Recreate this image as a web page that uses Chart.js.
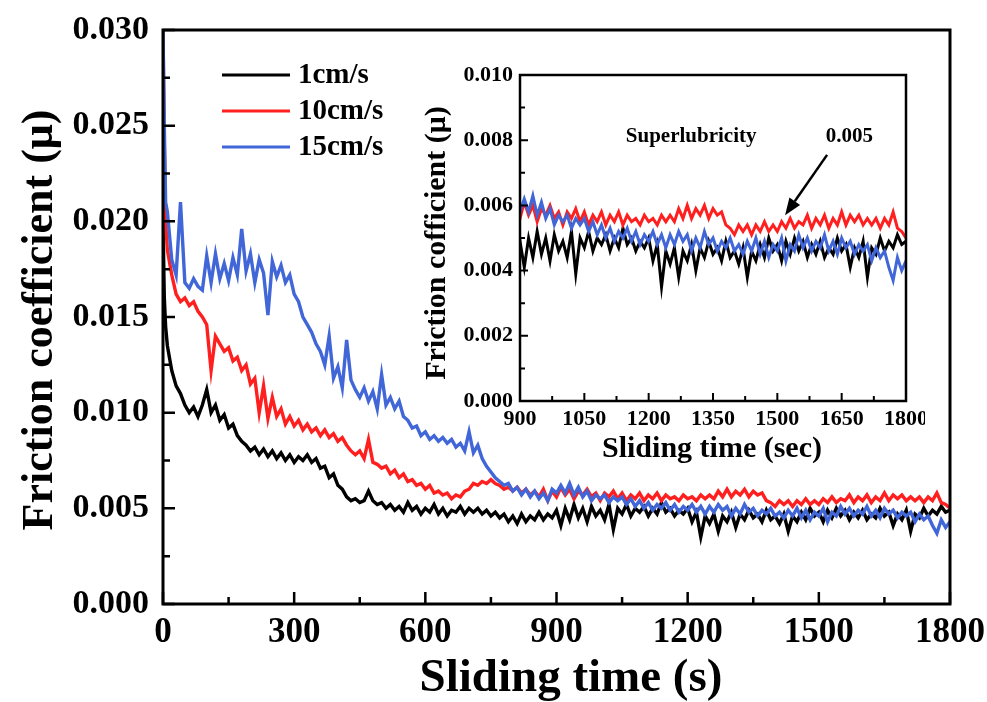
<!DOCTYPE html>
<html>
<head>
<meta charset="utf-8">
<script src="https://cdn.jsdelivr.net/npm/chart.js@4.4.0/dist/chart.umd.min.js"></script>
<style>
  html, body { margin: 0; padding: 0; background: #fff; }
  #wrap { position: relative; width: 987px; height: 702px; }
  #main { position: absolute; left: 0; top: 0; }
  #inset { position: absolute; left: 405px; top: 55px; }
</style>
</head>
<body>
<div id="wrap">
  <canvas id="main" width="987" height="702"></canvas>
  <canvas id="inset" width="520" height="420"></canvas>
</div>
<script>
// sliding time (s): a few early samples, then every 10 s
const startTimes = [0, 3, 6];
const times = startTimes.slice();
for (let t = 10; t <= 1800; t += 10) times.push(t);

const seriesLabels = ['1cm/s', '10cm/s', '15cm/s'];

// friction coefficient
const speed1 = [
  0.0200, 0.0160, 0.0145,
  0.0135, 0.0122, 0.0114, 0.0110, 0.0104, 0.0100, 0.0103, 0.0098, 0.0104, 0.0112,
  0.0100, 0.0104, 0.0096, 0.0099, 0.0092, 0.0094, 0.0088, 0.0085, 0.0083, 0.0080,
  0.0082, 0.0078, 0.0081, 0.0077, 0.0080, 0.0076, 0.0079, 0.0075, 0.0078, 0.0074,
  0.0077, 0.0075, 0.0078, 0.0074, 0.0076, 0.0071, 0.0072, 0.0066, 0.0068, 0.0062,
  0.0060, 0.0056, 0.0054, 0.0055, 0.0053, 0.0054, 0.0059, 0.0054, 0.0052, 0.0053,
  0.0050, 0.0052, 0.0049, 0.0051, 0.0048, 0.0053, 0.0049, 0.0051, 0.0047, 0.0050,
  0.0048, 0.0052, 0.0047, 0.0050, 0.0046, 0.0049, 0.0048, 0.0051, 0.0047, 0.0050,
  0.0048, 0.0050, 0.0047, 0.0049, 0.0046, 0.0048, 0.0045, 0.0047, 0.0043, 0.0046,
  0.0042, 0.0047, 0.0043, 0.0046, 0.0044, 0.0048, 0.0044, 0.0047, 0.0045, 0.0049,
  0.0041, 0.0050, 0.0044, 0.0052, 0.0045, 0.0050, 0.0043, 0.0051, 0.0046, 0.0049,
  0.0044, 0.0052, 0.0039, 0.0050, 0.0047, 0.0052, 0.0046, 0.0050, 0.0048, 0.0051,
  0.0046, 0.0050, 0.0047, 0.0053, 0.0048, 0.0050, 0.0046, 0.0049, 0.0047, 0.0050,
  0.0043, 0.0048, 0.0035, 0.0046, 0.0042, 0.0047, 0.0038, 0.0046, 0.0043, 0.0048,
  0.0040, 0.0047, 0.0044, 0.0049, 0.0045, 0.0047, 0.0043, 0.0049, 0.0044, 0.0046,
  0.0042, 0.0047, 0.0038, 0.0046, 0.0043, 0.0048, 0.0044, 0.0050, 0.0046, 0.0048,
  0.0043, 0.0049, 0.0045, 0.0050, 0.0046, 0.0049, 0.0044, 0.0048, 0.0045, 0.0049,
  0.0044, 0.0047, 0.0045, 0.0050, 0.0046, 0.0048, 0.0041, 0.0047, 0.0044, 0.0049,
  0.0038, 0.0047, 0.0045, 0.0050, 0.0046, 0.0049, 0.0047, 0.0051, 0.0048, 0.0049
];
const speed10 = [
  0.0300, 0.0240, 0.0200,
  0.0185, 0.0172, 0.0162, 0.0158, 0.0160, 0.0156, 0.0158, 0.0153, 0.0150, 0.0146,
  0.0122, 0.0140, 0.0136, 0.0132, 0.0134, 0.0127, 0.0129, 0.0122, 0.0125, 0.0115,
  0.0118, 0.0100, 0.0114, 0.0097, 0.0108, 0.0098, 0.0102, 0.0094, 0.0098, 0.0093,
  0.0096, 0.0091, 0.0094, 0.0090, 0.0092, 0.0088, 0.0091, 0.0087, 0.0089, 0.0085,
  0.0087, 0.0083, 0.0080, 0.0078, 0.0080, 0.0076, 0.0086, 0.0074, 0.0073, 0.0071,
  0.0072, 0.0068, 0.0070, 0.0066, 0.0068, 0.0064, 0.0065, 0.0062, 0.0063, 0.0060,
  0.0062, 0.0058, 0.0059, 0.0057, 0.0058, 0.0055, 0.0057, 0.0056, 0.0059, 0.0060,
  0.0063, 0.0062, 0.0064, 0.0063, 0.0065, 0.0063, 0.0062, 0.0060, 0.0061, 0.0059,
  0.0061, 0.0058, 0.0060, 0.0057, 0.0059, 0.0056, 0.0060, 0.0054, 0.0059, 0.0056,
  0.0061, 0.0057, 0.0060, 0.0055, 0.0059, 0.0057, 0.0060, 0.0056, 0.0058, 0.0054,
  0.0058, 0.0056, 0.0059, 0.0055, 0.0058, 0.0054, 0.0057, 0.0055, 0.0058, 0.0054,
  0.0057, 0.0055, 0.0058, 0.0054, 0.0057, 0.0055, 0.0056, 0.0054, 0.0057, 0.0055,
  0.0056, 0.0054, 0.0057, 0.0055, 0.0057, 0.0055, 0.0059, 0.0056, 0.0060, 0.0056,
  0.0059, 0.0057, 0.0060, 0.0056, 0.0059, 0.0057, 0.0058, 0.0054, 0.0053, 0.0051,
  0.0054, 0.0052, 0.0054, 0.0051, 0.0054, 0.0052, 0.0055, 0.0052, 0.0054, 0.0052,
  0.0055, 0.0053, 0.0056, 0.0053, 0.0055, 0.0054, 0.0057, 0.0053, 0.0056, 0.0054,
  0.0057, 0.0053, 0.0056, 0.0054, 0.0058, 0.0054, 0.0057, 0.0055, 0.0057, 0.0054,
  0.0056, 0.0054, 0.0056, 0.0053, 0.0056, 0.0054, 0.0058, 0.0053, 0.0052, 0.0050
];
const speed15 = [
  0.0300, 0.0250, 0.0210,
  0.0205, 0.0180, 0.0172, 0.0210, 0.0168, 0.0165, 0.0170, 0.0166, 0.0164, 0.0182,
  0.0168, 0.0183, 0.0170, 0.0178, 0.0169, 0.0181, 0.0172, 0.0196, 0.0174, 0.0183,
  0.0168, 0.0180, 0.0173, 0.0151, 0.0179, 0.0171, 0.0177, 0.0168, 0.0172, 0.0162,
  0.0158, 0.0150, 0.0146, 0.0142, 0.0136, 0.0132, 0.0125, 0.0140, 0.0118, 0.0124,
  0.0113, 0.0138, 0.0117, 0.0112, 0.0108, 0.0113, 0.0106, 0.0111, 0.0102, 0.0120,
  0.0104, 0.0108, 0.0102, 0.0106, 0.0098, 0.0096, 0.0092, 0.0093, 0.0088, 0.0090,
  0.0086, 0.0088, 0.0085, 0.0087, 0.0084, 0.0086, 0.0082, 0.0084, 0.0080, 0.0090,
  0.0079, 0.0083, 0.0076, 0.0072, 0.0069, 0.0066, 0.0064, 0.0062, 0.0063, 0.0059,
  0.0061, 0.0057, 0.0060, 0.0056, 0.0059, 0.0055, 0.0058, 0.0054, 0.0060, 0.0058,
  0.0062, 0.0058, 0.0063, 0.0057, 0.0061, 0.0056, 0.0059, 0.0054, 0.0057, 0.0055,
  0.0057, 0.0053, 0.0056, 0.0054, 0.0056, 0.0052, 0.0055, 0.0051, 0.0054, 0.0050,
  0.0053, 0.0049, 0.0052, 0.0050, 0.0053, 0.0049, 0.0052, 0.0048, 0.0051, 0.0049,
  0.0052, 0.0048, 0.0051, 0.0047, 0.0051, 0.0048, 0.0052, 0.0049, 0.0051, 0.0046,
  0.0050, 0.0047, 0.0052, 0.0048, 0.0050, 0.0046, 0.0049, 0.0047, 0.0050, 0.0046,
  0.0048, 0.0045, 0.0049, 0.0046, 0.0050, 0.0045, 0.0049, 0.0044, 0.0048, 0.0046,
  0.0050, 0.0043, 0.0048, 0.0046, 0.0051, 0.0047, 0.0050, 0.0046, 0.0049, 0.0047,
  0.0051, 0.0046, 0.0049, 0.0045, 0.0050, 0.0047, 0.0049, 0.0045, 0.0048, 0.0046,
  0.0048, 0.0043, 0.0047, 0.0044, 0.0046, 0.0041, 0.0037, 0.0044, 0.0040, 0.0043
];

const colors = ['#000000', '#ff1f1f', '#4066d8'];
const SERIF = '"Liberation Serif", "Times New Roman", serif';

function makeDatasets(width) {
  return [speed1, speed10, speed15].map((vals, i) => ({
    label: seriesLabels[i],
    data: vals.map((v, k) => ({ x: times[k], y: v })),
    borderColor: colors[i],
    borderWidth: width,
    pointRadius: 0,
    tension: 0,
    order: 3 - i   // blue drawn on top
  }));
}

// fixed axis boxes, no extra label padding from the library
const fixX = h => s => { s.height = h; s.paddingLeft = 0; s.paddingRight = 0; };
const fixY = w => s => { s.width = w; s.paddingTop = 0; s.paddingBottom = 0; };

// box frame + inward major/minor ticks
const frameTicks = {
  id: 'frameTicks',
  afterDatasetsDraw(chart, args, opts) {
    const { ctx, chartArea: a, scales: { x, y } } = chart;
    ctx.save();
    ctx.strokeStyle = '#000';
    ctx.lineWidth = opts.tickWidth;
    ctx.beginPath();
    const xt = x.ticks.map(t => t.value);
    xt.forEach((v, i) => {
      const px = x.getPixelForValue(v);
      ctx.moveTo(px, a.bottom); ctx.lineTo(px, a.bottom - opts.major);
      if (i < xt.length - 1) {
        const mx = x.getPixelForValue((v + xt[i + 1]) / 2);
        ctx.moveTo(mx, a.bottom); ctx.lineTo(mx, a.bottom - opts.minor);
      }
    });
    const yt = y.ticks.map(t => t.value);
    yt.forEach((v, i) => {
      const py = y.getPixelForValue(v);
      ctx.moveTo(a.left, py); ctx.lineTo(a.left + opts.major, py);
      if (i < yt.length - 1) {
        const my = y.getPixelForValue((v + yt[i + 1]) / 2);
        ctx.moveTo(a.left, my); ctx.lineTo(a.left + opts.minor, my);
      }
    });
    ctx.stroke();
    ctx.lineWidth = opts.width;
    ctx.strokeRect(a.left, a.top, a.right - a.left, a.bottom - a.top);
    ctx.restore();
  }
};

// axis titles drawn by hand so they can sit off-centre like the original
const axisTitles = {
  id: 'axisTitles',
  afterDraw(chart, args, opts) {
    const { ctx } = chart;
    ctx.save();
    ctx.fillStyle = '#000';
    ctx.textAlign = 'center';
    ctx.textBaseline = 'middle';
    opts.items.forEach(it => {
      ctx.save();
      ctx.translate(it.x, it.y);
      if (it.rotate) ctx.rotate(-Math.PI / 2);
      ctx.font = 'bold ' + it.size + 'px ' + SERIF;
      ctx.fillText(it.text, 0, 0);
      ctx.restore();
    });
    ctx.restore();
  }
};

// legend drawn as short line segments inside the plot
const lineLegend = {
  id: 'lineLegend',
  afterDraw(chart, args, opts) {
    const { ctx } = chart;
    ctx.save();
    ctx.font = 'bold ' + opts.size + 'px ' + SERIF;
    ctx.textBaseline = 'middle';
    chart.data.datasets.forEach((ds, i) => {
      const y = opts.y + i * opts.gap;
      ctx.strokeStyle = ds.borderColor;
      ctx.lineWidth = 3;
      ctx.beginPath();
      ctx.moveTo(opts.x, y); ctx.lineTo(opts.x + opts.len, y);
      ctx.stroke();
      ctx.fillStyle = '#000';
      ctx.fillText(ds.label, opts.x + opts.len + 8, y + 1);
    });
    ctx.restore();
  }
};

// text notes and arrow in the inset, placed in data coordinates
const insetNotes = {
  id: 'insetNotes',
  afterDraw(chart, args, opts) {
    const { ctx, scales: { x, y } } = chart;
    ctx.save();
    ctx.fillStyle = '#000';
    ctx.font = 'bold 21px ' + SERIF;
    ctx.textAlign = 'center';
    ctx.textBaseline = 'middle';
    opts.notes.forEach(n => ctx.fillText(n.text, x.getPixelForValue(n.t), y.getPixelForValue(n.v)));
    const x0 = x.getPixelForValue(opts.arrow.from[0]), y0 = y.getPixelForValue(opts.arrow.from[1]);
    const x1 = x.getPixelForValue(opts.arrow.to[0]), y1 = y.getPixelForValue(opts.arrow.to[1]);
    const ang = Math.atan2(y1 - y0, x1 - x0);
    const head = 17, half = 6.5;
    const bx = x1 - head * Math.cos(ang), by = y1 - head * Math.sin(ang);
    ctx.strokeStyle = '#000';
    ctx.lineWidth = 2.5;
    ctx.beginPath(); ctx.moveTo(x0, y0); ctx.lineTo(bx, by); ctx.stroke();
    ctx.beginPath();
    ctx.moveTo(x1, y1);
    ctx.lineTo(bx + half * Math.sin(ang), by - half * Math.cos(ang));
    ctx.lineTo(bx - half * Math.sin(ang), by + half * Math.cos(ang));
    ctx.closePath(); ctx.fill();
    ctx.restore();
  }
};

new Chart(document.getElementById('main'), {
  type: 'line',
  data: { datasets: makeDatasets(3.4) },
  plugins: [frameTicks, lineLegend, axisTitles],
  options: {
    responsive: false,
    animation: false,
    layout: { padding: { top: 30, right: 37, left: 0, bottom: 0 } },
    plugins: {
      legend: { display: false },
      tooltip: { enabled: false },
      frameTicks: { width: 3, tickWidth: 2.5, major: 12, minor: 7 },
      lineLegend: { x: 222, y: 75, gap: 36, len: 68, size: 29 },
      axisTitles: { items: [
        { text: 'Sliding time (s)', x: 571, y: 679, size: 47 },
        { text: 'Friction coefficient (μ)', x: 41, y: 320, size: 44, rotate: true }
      ] }
    },
    scales: {
      x: {
        type: 'linear', min: 0, max: 1800,
        afterFit: fixX(98),
        grid: { display: false, drawTicks: false },
        border: { display: false },
        ticks: { stepSize: 300, padding: 8, color: '#000', maxRotation: 0,
                 callback: v => String(v),
                 font: { family: SERIF, size: 35, weight: 'bold' } }
      },
      y: {
        min: 0, max: 0.03,
        afterFit: fixY(163),
        grid: { display: false, drawTicks: false },
        border: { display: false },
        ticks: { stepSize: 0.005, padding: 14, color: '#000',
                 callback: v => v.toFixed(3),
                 font: { family: SERIF, size: 34, weight: 'bold' } }
      }
    }
  }
});

new Chart(document.getElementById('inset'), {
  type: 'line',
  data: { datasets: makeDatasets(3) },
  plugins: [frameTicks, insetNotes, axisTitles],
  options: {
    responsive: false,
    animation: false,
    layout: { padding: { top: 20, right: 19, left: 0, bottom: 0 } },
    plugins: {
      legend: { display: false },
      tooltip: { enabled: false },
      frameTicks: { width: 2.5, tickWidth: 2, major: 8, minor: 5 },
      insetNotes: {
        notes: [
          { text: 'Superlubricity', t: 1299, v: 0.0081 },
          { text: '0.005', t: 1668, v: 0.0081 }
        ],
        arrow: { from: [1616, 0.00755], to: [1518, 0.0057] }
      },
      axisTitles: { items: [
        { text: 'Sliding time (sec)', x: 307, y: 394, size: 30 },
        { text: 'Friction cofficient (μ)', x: 32, y: 188, size: 30, rotate: true }
      ] }
    },
    scales: {
      x: {
        type: 'linear', min: 900, max: 1800,
        afterFit: fixX(74),
        grid: { display: false, drawTicks: false },
        border: { display: false },
        ticks: { stepSize: 150, padding: 5, color: '#000', maxRotation: 0, autoSkip: false,
                 callback: v => String(v),
                 font: { family: SERIF, size: 22, weight: 'bold' } }
      },
      y: {
        min: 0, max: 0.01,
        afterFit: fixY(115),
        grid: { display: false, drawTicks: false },
        border: { display: false },
        ticks: { stepSize: 0.002, padding: 7, color: '#000',
                 callback: v => v.toFixed(3),
                 font: { family: SERIF, size: 22, weight: 'bold' } }
      }
    }
  }
});
</script>
</body>
</html>
